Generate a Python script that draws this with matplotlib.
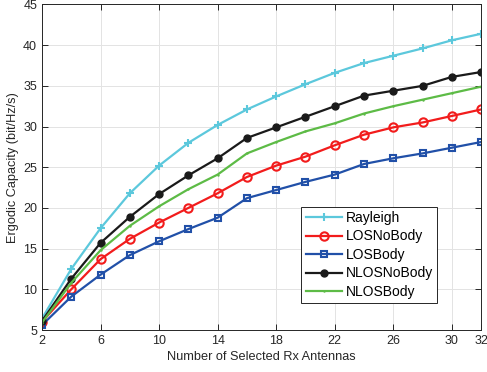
import numpy as np
import matplotlib.pyplot as plt

plt.rcParams['font.family'] = ['Liberation Sans', 'DejaVu Sans']

n_rx = [2, 4, 6, 8, 10, 12, 14, 16, 18, 20, 22, 24, 26, 28, 30, 32]
rayleigh = [6.4, 12.5, 17.5, 21.8, 25.2, 28.0, 30.2, 32.1, 33.7, 35.2, 36.6, 37.8, 38.7, 39.6, 40.6, 41.4]
los_nobody = [6.0, 10.0, 13.7, 16.2, 18.2, 20.0, 21.8, 23.8, 25.2, 26.3, 27.7, 29.0, 29.9, 30.5, 31.3, 32.1]
los_body = [5.6, 9.1, 11.8, 14.2, 15.9, 17.4, 18.8, 21.2, 22.2, 23.2, 24.1, 25.4, 26.1, 26.7, 27.4, 28.1]
nlos_nobody = [6.1, 11.3, 15.7, 18.9, 21.7, 24.0, 26.1, 28.6, 29.9, 31.2, 32.5, 33.8, 34.4, 35.0, 36.1, 36.7]
nlos_body = [5.9, 10.8, 14.8, 17.8, 20.2, 22.3, 24.1, 26.7, 28.1, 29.4, 30.4, 31.6, 32.5, 33.3, 34.1, 34.9]

fig = plt.figure(figsize=(4.87, 3.72), dpi=100)
ax = fig.add_axes([0.0862, 0.1129, 0.9018, 0.8751])

ax.plot(n_rx, rayleigh, color='#5CC8DC', marker='+', ms=6, mew=1.5, lw=1.6, label='Rayleigh')
ax.plot(n_rx, los_nobody, color='#F21C1C', marker='o', ms=6, mfc='none', mew=1.5, lw=1.6, label='LOSNoBody')
ax.plot(n_rx, los_body, color='#2150A8', marker='s', ms=5, mfc='none', mew=1.5, lw=1.6, label='LOSBody')
ax.plot(n_rx, nlos_nobody, color='#1A1A1A', marker='o', ms=5, lw=1.6, label='NLOSNoBody')
ax.plot(n_rx, nlos_body, color='#5DBB46', marker='.', ms=1.5, lw=1.6, label='NLOSBody')

ax.set_xlim(2, 32)
ax.set_ylim(5, 45)
ax.set_xticks([2, 6, 10, 14, 18, 22, 26, 30, 32])
ax.set_yticks(range(5, 46, 5))
ax.grid(True, color='#E3E3E3', lw=0.7)
ax.tick_params(direction='in', top=True, right=True, labelsize=9, colors='#262626', length=4, width=0.7)
for s in ax.spines.values():
    s.set_color('#262626')
    s.set_linewidth(0.7)

ax.set_xlabel('Number of Selected Rx Antennas', fontsize=9.2, color='#262626', labelpad=3)
ax.set_ylabel('Ergodic Capacity (bit/Hz/s)', fontsize=9.2, color='#262626', labelpad=3)

leg = ax.legend(loc='lower right', bbox_to_anchor=(0.90, 0.083), fontsize=10, fancybox=False,
                edgecolor='#262626', framealpha=1, handlelength=2.6, borderpad=0.3,
                labelspacing=0.32, handletextpad=0.3, borderaxespad=0)
leg.get_frame().set_linewidth(0.7)

fig.savefig('out.png', dpi=100)
